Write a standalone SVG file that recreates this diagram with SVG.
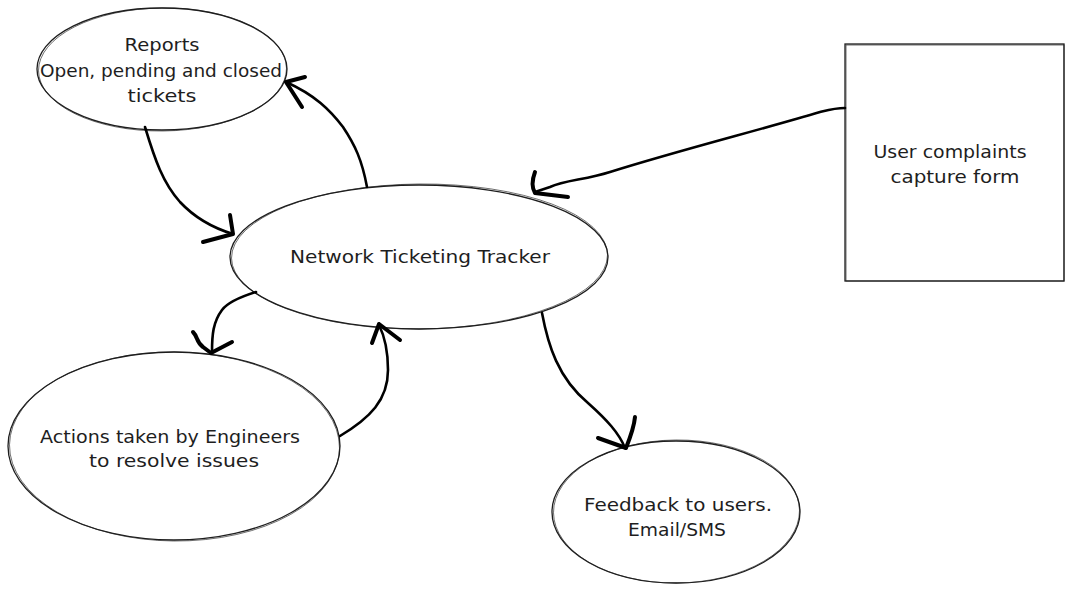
<svg xmlns="http://www.w3.org/2000/svg" width="1074" height="607" viewBox="0 0 1074 607">
<style>
.shape{fill:#ffffff;stroke:#1e1e1e;stroke-width:1.3}
.shape2{fill:none;stroke:#1e1e1e;stroke-width:0.8;opacity:0.8}
.lbl{font-family:"DejaVu Sans","Liberation Sans",sans-serif;font-size:17px;fill:#1e1e1e;text-anchor:middle}
.edge{fill:none;stroke:#000;stroke-width:2.6;stroke-linecap:round;stroke-linejoin:round}
.head{fill:none;stroke:#000;stroke-width:4;stroke-linecap:round;stroke-linejoin:round}
</style>
<rect width="1074" height="607" fill="#ffffff"/>
<g id="reports">
<ellipse class="shape" cx="162" cy="69" rx="125" ry="61"/>
<ellipse class="shape2" cx="162.5" cy="69.5" rx="124" ry="61.5" transform="rotate(-0.6 162 69)"/>
<text class="lbl" x="162" y="51" textLength="75" lengthAdjust="spacingAndGlyphs">Reports</text>
<text class="lbl" x="161" y="77" textLength="242" lengthAdjust="spacingAndGlyphs">Open, pending and closed</text>
<text class="lbl" x="162" y="102" textLength="69" lengthAdjust="spacingAndGlyphs">tickets</text>
</g>
<g id="tracker">
<ellipse class="shape" cx="419" cy="257" rx="189" ry="72"/>
<ellipse class="shape2" cx="419.5" cy="256.5" rx="188" ry="72.5" transform="rotate(-0.5 419 257)"/>
<text class="lbl" x="420" y="263" textLength="260" lengthAdjust="spacingAndGlyphs">Network Ticketing Tracker</text>
</g>
<g id="actions">
<ellipse class="shape" cx="174" cy="446" rx="166" ry="94"/>
<ellipse class="shape2" cx="174.5" cy="446.5" rx="165" ry="94.5" transform="rotate(0.6 174 446)"/>
<text class="lbl" x="170" y="443" textLength="260" lengthAdjust="spacingAndGlyphs">Actions taken by Engineers</text>
<text class="lbl" x="174" y="467" textLength="170" lengthAdjust="spacingAndGlyphs">to resolve issues</text>
</g>
<g id="feedback">
<ellipse class="shape" cx="676" cy="512" rx="124" ry="71"/>
<ellipse class="shape2" cx="676.5" cy="511.5" rx="123" ry="71.5" transform="rotate(-0.6 676 512)"/>
<text class="lbl" x="678" y="511" textLength="188" lengthAdjust="spacingAndGlyphs">Feedback to users.</text>
<text class="lbl" x="677" y="536" textLength="98" lengthAdjust="spacingAndGlyphs">Email/SMS</text>
</g>
<g id="complaints">
<rect class="shape" x="845" y="44" width="219" height="237"/>
<rect class="shape2" x="846" y="45" width="218" height="236"/>
<text class="lbl" x="950" y="158" textLength="153" lengthAdjust="spacingAndGlyphs">User complaints</text>
<text class="lbl" x="955" y="183" textLength="129" lengthAdjust="spacingAndGlyphs">capture form</text>
</g>
<g id="connectors">
<path class="edge" d="M145,127 C155,160 163,183 180,202 C195,218 213,228 233,234"/>
<path class="head" d="M203,242 L233,234 L230,215"/>
<path class="edge" d="M367,187 C362,160 355,145 343,127 C330,110 315,95 286,82"/>
<path class="head" d="M305,77 L286,82 L302,107"/>
<path class="edge" d="M256,292 C240,297 228,302 222,310 C213,322 212,335 212,352"/>
<path class="head" d="M193,332 C198,337 196,342 203,347 L211,353 L232,342"/>
<path class="edge" d="M340,436 C370,418 388,400 388,370 C388,350 384,335 379,325"/>
<path class="head" d="M372,343 L379,324 L400,340"/>
<path class="edge" d="M845,108 C835,108 828,110 820,112 C760,130 680,150 610,172 C585,180 565,180 550,187 L535,192"/>
<path class="head" d="M535,172 C532,180 532,188 535,193 L568,197"/>
<path class="edge" d="M542,313 C548,345 558,378 588,403 C607,420 619,433 625,448"/>
<path class="head" d="M598,438 L626,448 C630,438 634,428 635,417"/>
</g>
</svg>
